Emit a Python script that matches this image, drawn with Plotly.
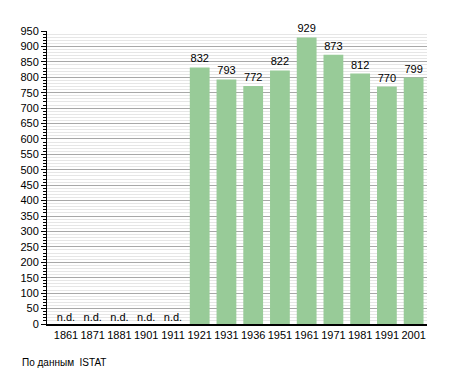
import plotly.graph_objects as go

years = ["1861", "1871", "1881", "1901", "1911", "1921", "1931", "1936", "1951", "1961", "1971", "1981", "1991", "2001"]
population = [None, None, None, None, None, 832, 793, 772, 822, 929, 873, 812, 770, 799]
nd_years = ["1861", "1871", "1881", "1901", "1911"]
nd_labels = ["n.d."] * len(nd_years)
nd_values = [0] * len(nd_years)

font = "Liberation Sans, Arial, sans-serif"

fig = go.Figure()
fig.add_trace(go.Bar(
    x=years, y=population,
    marker=dict(color="#98cb98", line=dict(width=0)),
    text=[str(v) if v is not None else "" for v in population],
    textposition="outside", cliponaxis=False,
    textfont=dict(family=font, size=11, color="black"),
    width=0.74,
))
fig.add_trace(go.Scatter(
    x=nd_years, y=nd_values, mode="text", text=nd_labels,
    textposition="top center", cliponaxis=False,
    textfont=dict(family=font, size=11, color="black"),
))

W, H = 455, 373
L, R, T, B = 47, 28, 31, 49

fig.update_layout(
    width=W, height=H,
    margin=dict(l=L, r=R, t=T, b=B),
    paper_bgcolor="white", plot_bgcolor="white",
    showlegend=False,
    font=dict(family=font, size=11, color="black"),
    xaxis=dict(
        type="category", categoryorder="array", categoryarray=years,
        showline=True, linecolor="black", linewidth=2,
        ticks="", showgrid=False,
        tickfont=dict(family=font, size=11, color="black"),
        ticklabelstandoff=0,
    ),
    yaxis=dict(
        range=[0, 950], dtick=50, tick0=0,
        showline=True, linecolor="black", linewidth=1,
        ticks="outside", ticklen=5, tickcolor="black",
        showgrid=True, gridcolor="#a8a8a8", gridwidth=1,
        zeroline=False,
        tickfont=dict(family=font, size=11, color="black"),
        minor=dict(dtick=10, showgrid=True, gridcolor="#e6e6e6", gridwidth=1,
                   ticks="outside", ticklen=3, tickcolor="black"),
    ),
    bargap=0.26,
)
fig.add_annotation(
    x=(20 - L) / (W - L - R), y=(H - B - 362) / (H - T - B),
    xref="paper", yref="paper", text="По данным  ISTAT", showarrow=False,
    xanchor="left", yanchor="middle",
    font=dict(family=font, size=10, color="black"),
)

fig.write_html(
    "out.html",
    config={"displayModeBar": False},
    post_script="document.body.style.margin='0';document.body.style.padding='0';",
)
